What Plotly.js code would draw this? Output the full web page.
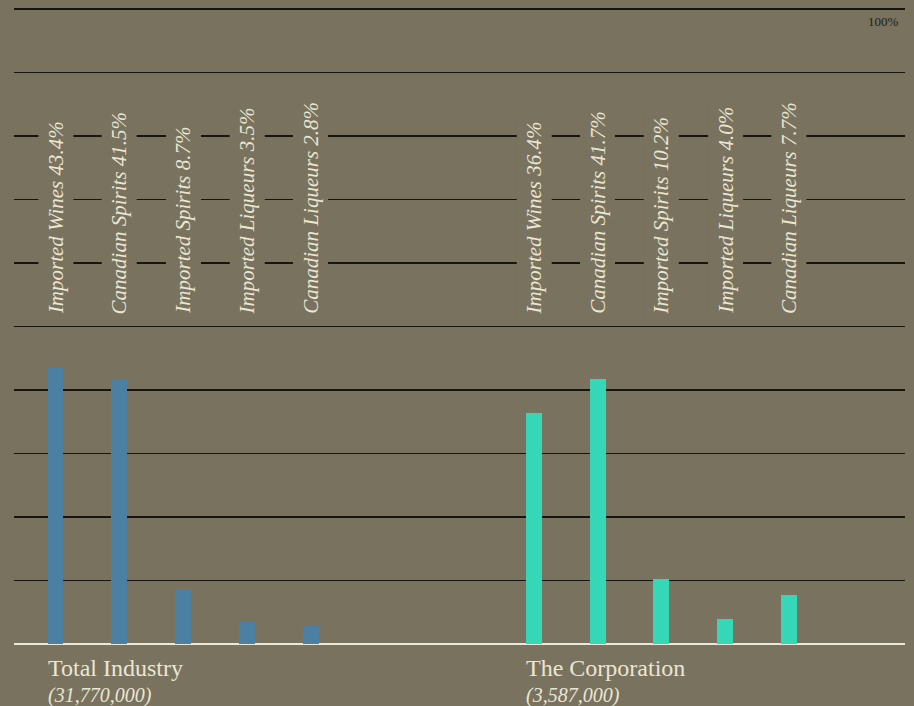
<!DOCTYPE html>
<html>
<head>
<meta charset="utf-8">
<script src="https://cdn.plot.ly/plotly-3.0.1.min.js"></script>
<style>
  html, body { margin: 0; padding: 0; background: #78725f; }
  #chart { width: 914px; height: 706px; }
</style>
</head>
<body>
<div id="chart"></div>
<script>
const categories = ["Imported Wines", "Canadian Spirits", "Imported Spirits", "Imported Liqueurs", "Canadian Liqueurs"];
const industryShares = [43.4, 41.5, 8.7, 3.5, 2.8];
const corporationShares = [36.4, 41.7, 10.2, 4.0, 7.7];
const groupNames = ["Total Industry", "The Corporation"];
const groupTotals = ["(31,770,000)", "(3,587,000)"];
const seriesValues = [industryShares, corporationShares];
const yTickValues = [0, 10, 20, 30, 40, 50, 60, 70, 80, 90, 100];
const topTickLabel = "100%";

const BG = "#78725f";
const barColors = ["#4b80a2", "#36d7b6"];
const groupOffset = 7.5;
const labelColor = "#ebe6d2";

const traces = seriesValues.map((vals, g) => ({
  type: "bar",
  x: categories.map((c, i) => i + g * groupOffset),
  y: vals,
  width: 0.25,
  marker: { color: barColors[g], line: { width: 0 } },
  hoverinfo: "skip",
  showlegend: false
}));

const annotations = [];
seriesValues.forEach((vals, g) => {
  categories.forEach((c, i) => {
    annotations.push({
      x: i + g * groupOffset, xref: "x",
      y: 51, yref: "y",
      xanchor: "center", yanchor: "bottom",
      text: c + " " + vals[i].toFixed(1) + "%",
      textangle: -90,
      showarrow: false,
      bgcolor: BG,
      borderpad: 5,
      font: { family: "Liberation Serif, serif", size: 21, color: labelColor, style: "italic" }
    });
  });
  annotations.push({
    x: g * groupOffset - 0.15, xref: "x",
    y: 0, yref: "paper",
    xanchor: "left", yanchor: "top",
    yshift: -9,
    text: groupNames[g],
    showarrow: false,
    font: { family: "Liberation Serif, serif", size: 24, color: labelColor }
  });
  annotations.push({
    x: g * groupOffset - 0.15, xref: "x",
    y: 0, yref: "paper",
    xanchor: "left", yanchor: "top",
    yshift: -38,
    text: "<i>" + groupTotals[g] + "</i>",
    showarrow: false,
    font: { family: "Liberation Serif, serif", size: 20, color: labelColor }
  });
});
annotations.push({
  x: 1, xref: "paper", xanchor: "right",
  y: 100, yref: "y", yanchor: "top",
  xshift: -4, yshift: -3,
  text: topTickLabel,
  showarrow: false,
  font: { family: "Liberation Serif, serif", size: 13, color: "#221f18" }
});

const layout = {
  width: 914, height: 706,
  margin: { l: 14, r: 9, t: 7, b: 62, pad: 0 },
  paper_bgcolor: BG,
  plot_bgcolor: BG,
  bargap: 0,
  xaxis: {
    range: [-0.651, 13.32],
    showgrid: false, zeroline: false, showline: false,
    showticklabels: false, ticks: "", fixedrange: true
  },
  yaxis: {
    range: [0, 100.3],
    tickvals: yTickValues,
    showticklabels: false, ticks: "",
    showgrid: true, gridcolor: "#16150f", gridwidth: 1.6,
    zeroline: true, zerolinecolor: "#ece8d8", zerolinewidth: 2,
    showline: false, fixedrange: true
  },
  annotations: annotations
};

Plotly.newPlot("chart", traces, layout, { staticPlot: true, displayModeBar: false });
</script>
</body>
</html>
